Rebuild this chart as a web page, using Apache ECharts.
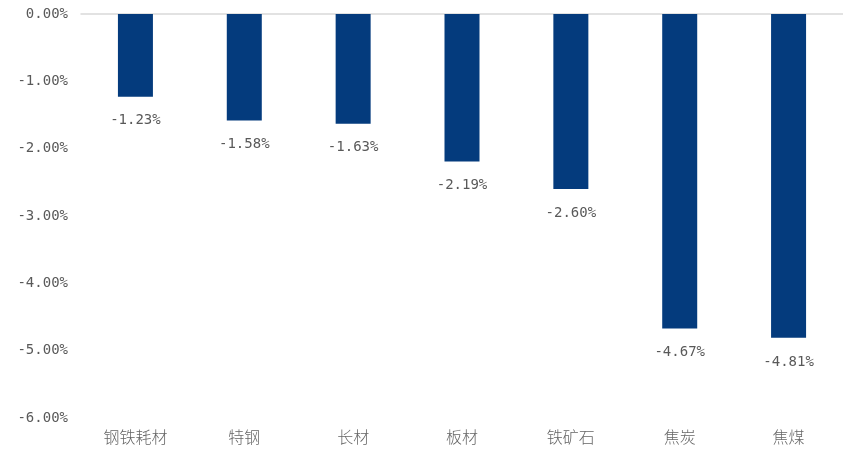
<!DOCTYPE html>
<html>
<head>
<meta charset="utf-8">
<script src="https://cdn.jsdelivr.net/npm/echarts@6/dist/echarts.min.js"></script>
<style>
  html, body { margin: 0; padding: 0; background: #fff; }
  #chart { width: 843px; height: 450px; }
</style>
</head>
<body>
<div id="chart"></div>
<script>
// 各品种跌幅（%）
const categories = ['钢铁耗材', '特钢', '长材', '板材', '铁矿石', '焦炭', '焦煤'];
const changes = [-1.23, -1.58, -1.63, -2.19, -2.60, -4.67, -4.81];

const textColor = '#595959';
const numFont = '"DejaVu Sans Mono", monospace';
const cjkFont = '"Noto Sans CJK SC", sans-serif';

const chart = echarts.init(document.getElementById('chart'));
chart.setOption({
  animation: false,
  grid: { left: 81, right: -5, top: 14, bottom: 32 },
  xAxis: [
    {
      type: 'category',
      data: categories,
      position: 'bottom',
      axisLine: { show: false, onZero: false },
      axisTick: { show: false },
      axisLabel: { color: '#666', fontSize: 16, fontWeight: 300, fontFamily: cjkFont, margin: 11 }
    },
    {
      type: 'category',
      data: categories,
      position: 'top',
      axisLine: { show: true, onZero: false, lineStyle: { color: '#d9d9d9', width: 1.5 } },
      axisTick: { show: false },
      axisLabel: { show: false }
    }
  ],
  yAxis: {
    type: 'value',
    min: -6,
    max: 0,
    interval: 1,
    axisLine: { show: false },
    axisTick: { show: false },
    splitLine: { show: false },
    axisLabel: {
      color: textColor,
      fontSize: 14,
      fontFamily: numFont,
      margin: 13,
      formatter: v => v.toFixed(2) + '%'
    }
  },
  series: [{
    type: 'bar',
    data: changes,
    barWidth: 35,
    itemStyle: { color: '#043B7D' },
    label: {
      show: true,
      position: 'bottom',
      distance: 17,
      color: textColor,
      fontSize: 14,
      fontFamily: numFont,
      formatter: p => p.value.toFixed(2) + '%'
    }
  }]
});
</script>
</body>
</html>
